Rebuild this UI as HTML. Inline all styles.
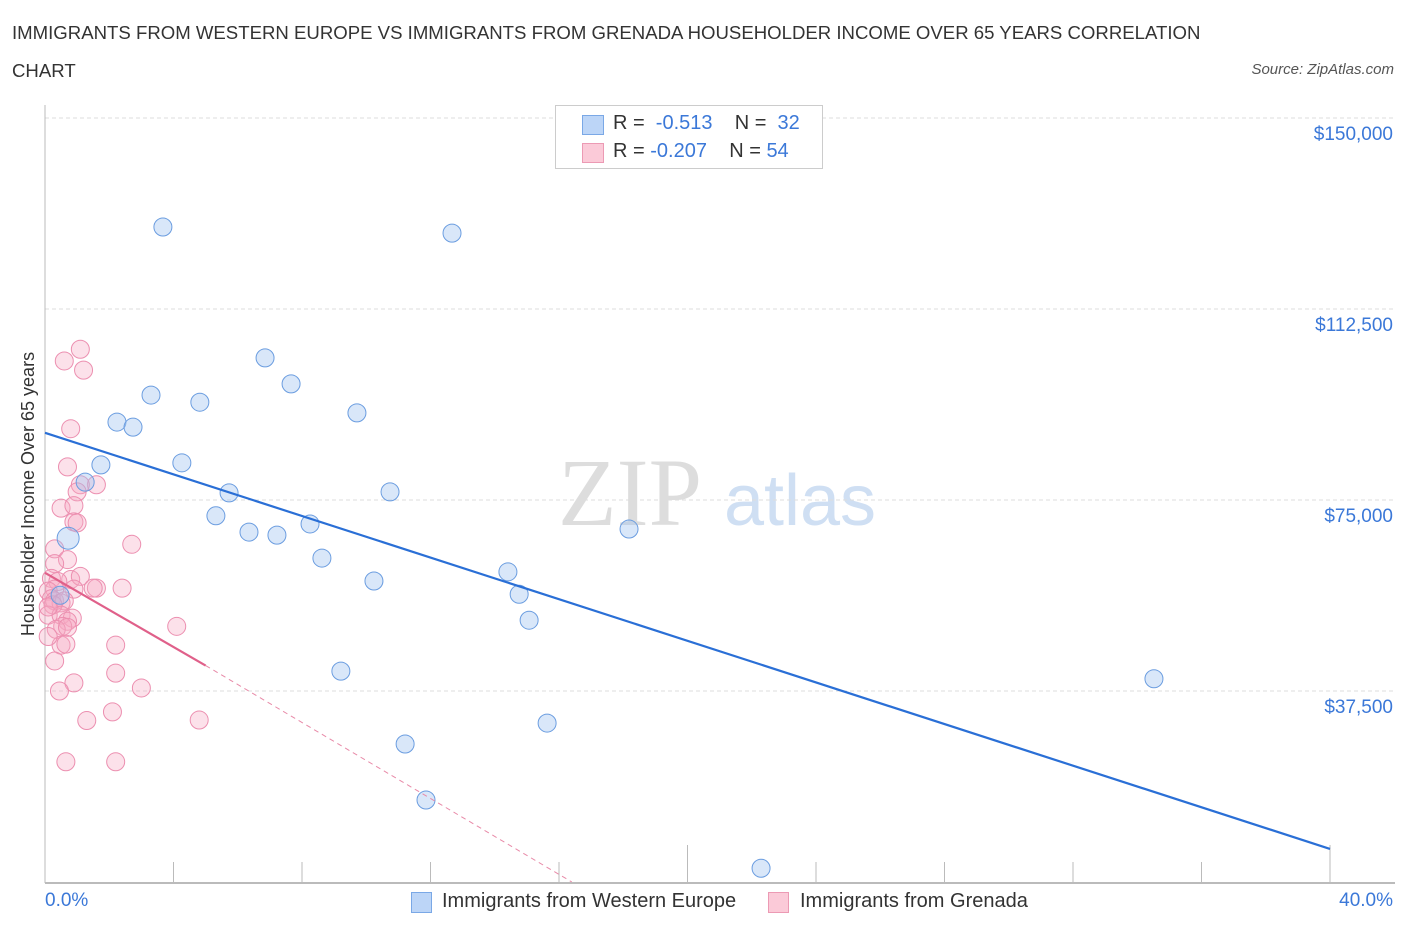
<!DOCTYPE html>
<html><head><meta charset="utf-8"><style>
html,body{margin:0;padding:0;background:#fff;}
body{width:1406px;height:930px;position:relative;overflow:hidden;font-family:"Liberation Sans",sans-serif;}
.t{position:absolute;white-space:nowrap;}
</style></head><body>
<div class="t" style="left:12px;top:14px;font-size:18.6px;color:#333;line-height:38px;width:1210px;white-space:normal">IMMIGRANTS FROM WESTERN EUROPE VS IMMIGRANTS FROM GRENADA HOUSEHOLDER INCOME OVER 65 YEARS CORRELATION CHART</div>
<div class="t" style="right:12px;top:61px;font-size:15px;color:#555;font-style:italic">Source: ZipAtlas.com</div>
<svg id="chart" width="1406" height="930" style="position:absolute;left:0;top:0">
<text x="630" y="525" font-family="Liberation Serif,serif" font-size="96" fill="#ddd" text-anchor="middle">ZIP</text>
<text x="800" y="525" font-family="Liberation Sans,sans-serif" font-size="72" fill="#cfdff3" text-anchor="middle">atlas</text>
<g id="grid"></g><g id="marks"></g>
<text x="34" y="494" transform="rotate(-90 34 494)" font-size="18" fill="#333" text-anchor="middle">Householder Income Over 65 years</text>
</svg>
<div style="position:absolute;left:555px;top:105px;width:266px;height:62px;border:1px solid #ccc;background:#fff;font-size:20px;color:#333">
 <div style="position:absolute;left:26px;top:9px;width:20px;height:18px;background:#bcd5f7;border:1px solid #7aa8e6"></div>
 <div class="t" style="left:57px;top:6px">R = &nbsp;<span style="color:#3b78d8">-0.513</span>&nbsp;&nbsp;&nbsp; N = &nbsp;<span style="color:#3b78d8">32</span></div>
 <div style="position:absolute;left:26px;top:37px;width:20px;height:18px;background:#fbcad8;border:1px solid #ec9ab4"></div>
 <div class="t" style="left:57px;top:34px">R = <span style="color:#3b78d8">-0.207</span>&nbsp;&nbsp;&nbsp; N = <span style="color:#3b78d8">54</span></div>
</div>
<div class="t" style="left:45px;top:890px;font-size:19px;color:#3b78d8">0.0%</div>
<div class="t" style="right:13px;top:890px;font-size:19px;color:#3b78d8">40.0%</div>
<div style="position:absolute;left:411px;top:892px;width:19px;height:19px;background:#bcd5f7;border:1px solid #7aa8e6"></div>
<div class="t" style="left:442px;top:890px;font-size:20px;color:#333">Immigrants from Western Europe</div>
<div style="position:absolute;left:768px;top:892px;width:19px;height:19px;background:#fbcad8;border:1px solid #ec9ab4"></div>
<div class="t" style="left:800px;top:890px;font-size:20px;color:#333">Immigrants from Grenada</div>
<script>
const yTicks=[37500,75000,112500,150000];
const yTickLabels=["$37,500","$75,000","$112,500","$150,000"];
const blueX=[3.67,12.67,6.85,7.66,3.30,4.82,9.71,2.24,2.74,4.26,1.74,1.25,5.73,10.74,5.32,6.35,7.22,8.25,0.72,18.18,8.62,14.41,10.24,14.76,0.47,15.07,9.21,34.52,15.63,11.21,11.86,22.29];
const blueY=[128600,127400,102900,97800,95600,94200,92100,90300,89300,82300,81900,78500,76400,76600,71900,68700,68100,70300,67500,69300,63600,60900,59100,56500,56300,51400,41400,39900,31200,27100,16100,2700];
const pinkX=[1.1,0.6,1.2,0.8,0.7,1.6,1.1,1.0,0.5,0.9,0.9,1.0,0.3,2.7,0.7,0.3,0.2,0.8,1.1,0.4,0.3,2.4,1.6,1.5,0.9,0.1,0.2,0.3,0.5,0.6,0.25,0.1,0.5,0.85,0.7,0.55,0.35,0.7,4.1,2.2,0.5,0.65,0.1,0.3,2.2,3.0,0.9,0.45,2.1,1.3,4.8,0.65,2.2,0.1];
const pinkY=[104600,102300,100500,89000,81500,78000,78000,76600,73400,73900,70700,70500,65400,66300,63300,62500,59600,59400,60000,59000,57500,57700,57700,57700,57500,57100,55600,55200,54800,55200,54400,52400,52400,51800,51200,50200,49600,50000,50200,46500,46500,46700,48200,43400,41000,38100,39100,37500,33400,31700,31800,23600,23600,54000];
const blueTrend=[0,88200,40,6500];
const pinkTrend=[0,60700,5,42500,16.4,0];
function X(p){return 45+p/40*1285;}
function Y(v){return 882-v/37500*191;}
const NS="http://www.w3.org/2000/svg";
const grid=document.getElementById('grid'),marks=document.getElementById('marks');
function mk(tag,attrs,parent){const e=document.createElementNS(NS,tag);for(const k in attrs)e.setAttribute(k,attrs[k]);parent.appendChild(e);return e;}
yTicks.forEach((v,i)=>{
 const l=mk('line',{x1:45,x2:1395,y1:Y(v),y2:Y(v),stroke:'#ddd','stroke-dasharray':'4,3'},grid);
 
 
 const t=mk('text',{x:1393,y:Y(v)+22,'text-anchor':'end','font-size':'19',fill:'#3b78d8'},grid);
 t.textContent=yTickLabels[i];
 
 
});
const ax=mk('line',{x1:45,x2:45,y1:105,y2:883,stroke:'#bbb'},grid);


const bx=mk('line',{x1:45,x2:1395,y1:883,y2:883,stroke:'#bbb','stroke-width':2},grid);


for(let i=0;i<=10;i++){
 const tl=mk('line',{x1:X(i*4),x2:X(i*4),y1:(i==5||i==10)?845:862,y2:883,stroke:'#bbb'},grid);
 
 
}
pinkX.forEach((x,i)=>{
 const c=mk('circle',{cx:X(x),cy:Y(pinkY[i]),r:9,fill:'rgba(246,170,196,0.35)',stroke:'#ec8fb0','stroke-width':1},marks);
 
 
});
blueX.forEach((x,i)=>{
 const c=mk('circle',{cx:X(x),cy:Y(blueY[i]),r:i==18?11:9,fill:'rgba(160,196,240,0.4)',stroke:'#6b9de0','stroke-width':1},marks);
 
 
});
const bl=mk('line',{x1:X(blueTrend[0]),y1:Y(blueTrend[1]),x2:X(blueTrend[2]),y2:Y(blueTrend[3]),stroke:'#2a6fd6','stroke-width':2.2},marks);


const pl=mk('line',{x1:X(pinkTrend[0]),y1:Y(pinkTrend[1]),x2:X(pinkTrend[2]),y2:Y(pinkTrend[3]),stroke:'#e0608a','stroke-width':2.2},marks);


const pd=mk('line',{x1:X(pinkTrend[2]),y1:Y(pinkTrend[3]),x2:X(pinkTrend[4]),y2:Y(pinkTrend[5]),stroke:'#e88aa8','stroke-width':1,'stroke-dasharray':'5,4'},marks);


</script>
</body></html>
